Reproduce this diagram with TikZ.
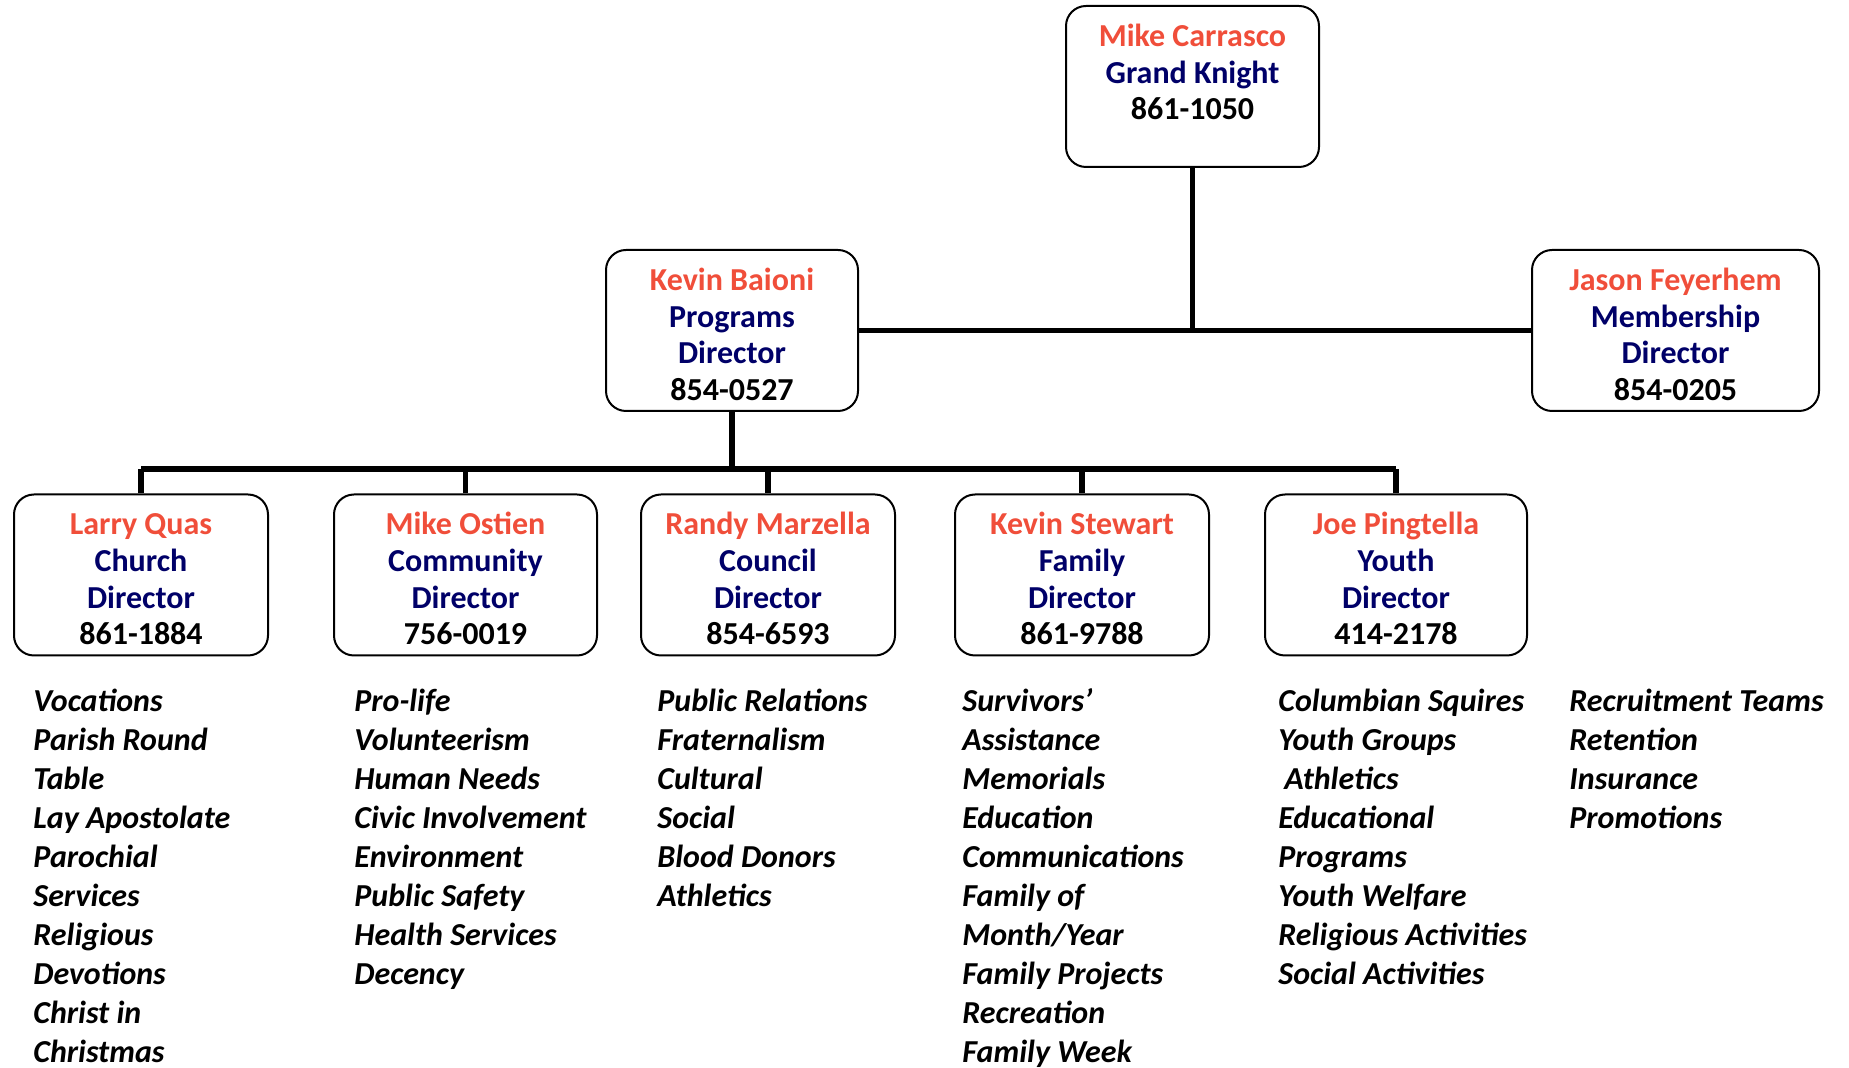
\documentclass[tikz,border=0pt]{standalone}
\usepackage{fontspec}
\setmainfont{Carlito}
\definecolor{kred}{RGB}{240,78,58}
\definecolor{knavy}{RGB}{0,0,104}
\newcommand\kname[1]{\rule{0pt}{15pt}\textcolor{kred}{#1}}
\tikzset{
	officer/.style={draw,line width=1pt,rounded corners=10pt,minimum height=80.5pt,
		align=center,inner sep=0pt,font=\fontsize{16}{18.3}\selectfont\bfseries},
	link/.style={line width=2.6pt},
	duties/.style={anchor=north west,align=left,inner sep=0pt,
		font=\fontsize{16}{19.5}\selectfont\bfseries\itshape}
}
\begin{document}
\begin{tikzpicture}[x=0.5pt,y=-0.5pt]
	\useasboundingbox (0,0) rectangle (1849,1068);
	% officers
	\node[officer,minimum width=126.5pt] (gk) at (1192.5,86.5) {\kname{Mike Carrasco}\\\textcolor{knavy}{Grand Knight}\\861-1050\\[0pt]\mbox{}};
	\node[officer,minimum width=126pt] (pd) at (732,330.5) {\kname{Kevin Baioni}\\\textcolor{knavy}{Programs}\\\textcolor{knavy}{Director}\\854-0527};
	\node[officer,minimum width=143.5pt] (md) at (1675.5,330.5) {\kname{Jason Feyerhem}\\\textcolor{knavy}{Membership}\\\textcolor{knavy}{Director}\\854-0205};
	\node[officer,minimum width=127pt] (church) at (141,575) {\kname{Larry Quas}\\\textcolor{knavy}{Church}\\\textcolor{knavy}{Director}\\861-1884};
	\node[officer,minimum width=131.5pt] (community) at (465.5,575) {\kname{Mike Ostien}\\\textcolor{knavy}{Community}\\\textcolor{knavy}{Director}\\756-0019};
	\node[officer,minimum width=127pt] (council) at (768,575) {\kname{Randy Marzella}\\\textcolor{knavy}{Council}\\\textcolor{knavy}{Director}\\854-6593};
	\node[officer,minimum width=127pt] (family) at (1082,575) {\kname{Kevin Stewart}\\\textcolor{knavy}{Family}\\\textcolor{knavy}{Director}\\861-9788};
	\node[officer,minimum width=131pt] (youth) at (1396,575) {\kname{Joe Pingtella}\\\textcolor{knavy}{Youth}\\\textcolor{knavy}{Director}\\414-2178};
	% lines
	\draw[link] (gk.south) -- (gk.south |- pd.east);
	\draw[link] (pd.east) -- (md.west);
	\coordinate (bus) at ([yshift=-28.5pt]pd.south);
	\draw[link] (pd.south) -- (bus);
	\draw[link] (church.north |- bus) -- (youth.north |- bus);
	\foreach \n in {church,community,council,family,youth}
		\draw[link] (\n.north) -- (\n.north |- bus);
	% duties
	\node[duties] (churchlist) at (33,684) {\strut Vocations\\Parish Round\\Table\\Lay Apostolate\\Parochial\\Services\\Religious\\Devotions\\Christ in\\Christmas};
	\node[duties] (communitylist) at (354,684) {\strut Pro-life\\Volunteerism\\Human Needs\\Civic Involvement\\Environment\\Public Safety\\Health Services\\Decency};
	\node[duties] (councillist) at (657,684) {\strut Public Relations\\Fraternalism\\Cultural\\Social\\Blood Donors\\Athletics};
	\node[duties] (familylist) at (962,684) {\strut Survivors’\\Assistance\\Memorials\\Education\\Communications\\Family of\\Month/Year\\Family Projects\\Recreation\\Family Week};
	\node[duties] (youthlist) at (1278,684) {\strut Columbian Squires\\Youth Groups\\\hspace*{3pt}Athletics\\Educational\\Programs\\Youth Welfare\\Religious Activities\\Social Activities};
	\node[duties] (memberlist) at (1569,684) {\strut Recruitment Teams\\Retention\\Insurance\\Promotions};
\end{tikzpicture}
\end{document}
